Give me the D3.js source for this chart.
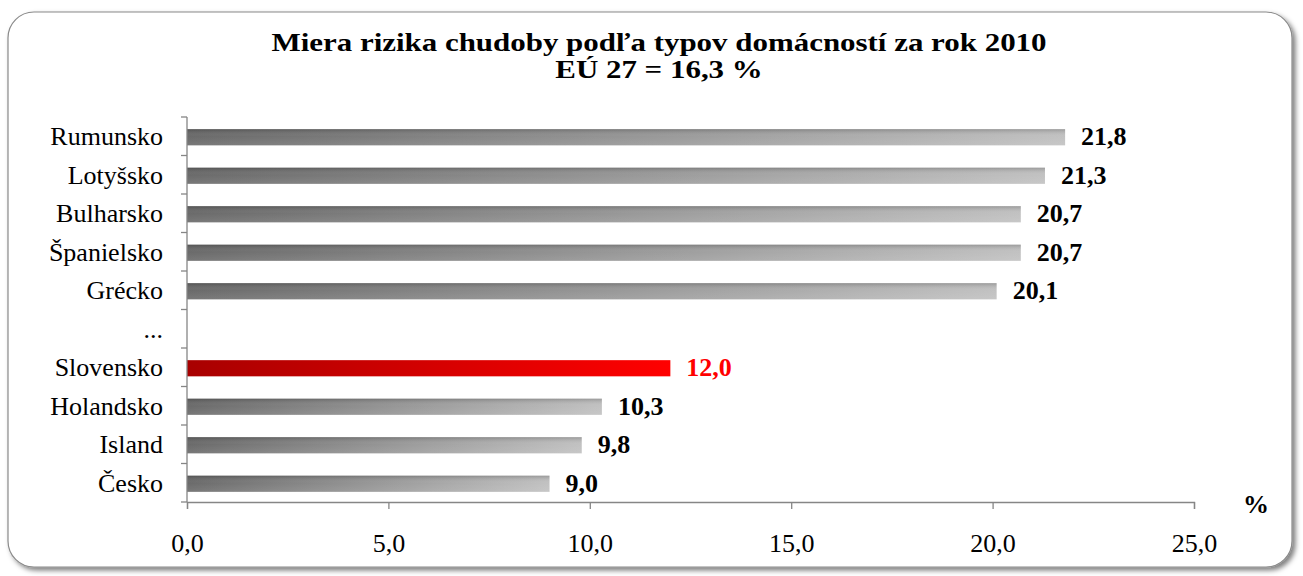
<!DOCTYPE html>
<html>
<head>
<meta charset="utf-8">
<script src="https://cdn.jsdelivr.net/npm/d3@7"></script>
<style>
body{margin:0;background:#fff;}
svg text{font-family:"Liberation Serif","Times New Roman",serif;}
</style>
</head>
<body>
<script>
// data
var countries = ["Rumunsko","Lotyšsko","Bulharsko","Španielsko","Grécko","...","Slovensko","Holandsko","Island","Česko"];
var values = [21.8, 21.3, 20.7, 20.7, 20.1, null, 12.0, 10.3, 9.8, 9.0];
var highlight = "Slovensko";
var xTicks = [0, 5, 10, 15, 20, 25];
var titleLines = ["Miera rizika chudoby podľa typov domácností za rok 2010", "EÚ 27 = 16,3 %"];

var W = 1303, H = 576;
var margin = {top: 117, left: 187, right: 109, bottom: 74};
var serif = "Liberation Serif, Times New Roman, serif";

var svg = d3.select("body").append("svg")
  .attr("width", W).attr("height", H);

var defs = svg.append("defs");
var shadow = defs.append("filter").attr("id", "shadow")
  .attr("x", "-5%").attr("y", "-5%").attr("width", "110%").attr("height", "115%");
shadow.append("feDropShadow").attr("dx", 3).attr("dy", 3).attr("stdDeviation", 2.5)
  .attr("flood-color", "#000").attr("flood-opacity", 0.5);

function grad(id, c0, c1) {
  var g = defs.append("linearGradient").attr("id", id)
    .attr("x1", "0%").attr("x2", "100%").attr("y1", "0%").attr("y2", "0%");
  g.append("stop").attr("offset", "0%").attr("stop-color", c0);
  g.append("stop").attr("offset", "100%").attr("stop-color", c1);
}
grad("grayGrad", "#666666", "#c0c0c0");
grad("redGrad", "#a80000", "#ff0000");
// vertical shading so the gray bars look a bit rounded
var vg = defs.append("linearGradient").attr("id", "shade")
  .attr("x1", "0%").attr("x2", "0%").attr("y1", "0%").attr("y2", "100%");
vg.append("stop").attr("offset", "0%").attr("stop-color", "#000").attr("stop-opacity", 0.2);
vg.append("stop").attr("offset", "45%").attr("stop-color", "#fff").attr("stop-opacity", 0.03);
vg.append("stop").attr("offset", "100%").attr("stop-color", "#fff").attr("stop-opacity", 0.12);

// outer frame
svg.append("rect")
  .attr("x", 8).attr("y", 12).attr("width", 1284).attr("height", 555)
  .attr("rx", 26).attr("ry", 26)
  .attr("fill", "#fff").attr("stroke", "#8a8a8a").attr("stroke-width", 1.2)
  .attr("filter", "url(#shadow)");

// title (the source image is stretched sideways, hence the scale)
svg.append("g").selectAll("text")
  .data(titleLines).enter().append("text")
  .attr("transform", function(d, i) { return "translate(659," + (51 + i * 27) + ") scale(1.19,1)"; })
  .attr("text-anchor", "middle")
  .attr("font-size", "26px").attr("font-weight", "bold")
  .style("font-family", serif)
  .text(function(d) { return d; });

var x = d3.scaleLinear().domain([0, 25]).range([margin.left, W - margin.right]);
var y = d3.scaleBand().domain(countries).range([margin.top, H - margin.bottom]);
var barH = y.bandwidth() * 0.42;

// bars
var bars = svg.append("g").selectAll("g")
  .data(countries.map(function(c, i) { return {name: c, value: values[i]}; })
    .filter(function(d) { return d.value != null; }))
  .enter().append("g");

bars.append("rect")
  .attr("x", x(0))
  .attr("y", function(d) { return y(d.name) + (y.bandwidth() - barH) / 2 + 1; })
  .attr("width", function(d) { return x(d.value) - x(0); })
  .attr("height", barH)
  .attr("fill", function(d) { return d.name == highlight ? "url(#redGrad)" : "url(#grayGrad)"; });

bars.filter(function(d) { return d.name != highlight; }).append("rect")
  .attr("x", x(0))
  .attr("y", function(d) { return y(d.name) + (y.bandwidth() - barH) / 2 + 1; })
  .attr("width", function(d) { return x(d.value) - x(0); })
  .attr("height", barH)
  .attr("fill", "url(#shade)");

bars.append("text")
  .attr("x", function(d) { return x(d.value) + 16; })
  .attr("y", function(d) { return y(d.name) + y.bandwidth() / 2 + 9; })
  .attr("font-size", "26px").attr("font-weight", "bold")
  .style("font-family", serif)
  .attr("fill", function(d) { return d.name == highlight ? "#ff0000" : "#000"; })
  .text(function(d) { return d3.format(".1f")(d.value).replace(".", ","); });

// y axis: line plus ticks at band boundaries
var axisColor = "#868686";
var yAx = svg.append("g");
yAx.append("line")
  .attr("x1", x(0)).attr("x2", x(0))
  .attr("y1", margin.top).attr("y2", H - margin.bottom)
  .attr("stroke", axisColor).attr("stroke-width", 1.3);
yAx.selectAll(".tk")
  .data(countries.map(function(c) { return y(c); }).concat([H - margin.bottom]))
  .enter().append("line")
  .attr("x1", x(0) - 6).attr("x2", x(0))
  .attr("y1", function(d) { return d; }).attr("y2", function(d) { return d; })
  .attr("stroke", axisColor).attr("stroke-width", 1.3);
yAx.selectAll("text")
  .data(countries).enter().append("text")
  .attr("x", 163)
  .attr("y", function(d) { return y(d) + y.bandwidth() / 2 + 9; })
  .attr("text-anchor", "end")
  .attr("font-size", "26px")
  .style("font-family", serif)
  .text(function(d) { return d; });

// x axis
var xAx = svg.append("g")
  .attr("transform", "translate(0," + (H - margin.bottom) + ")")
  .call(d3.axisBottom(x).tickValues(xTicks).tickSizeOuter(0).tickSize(7)
    .tickFormat(function(d) { return d3.format(".1f")(d).replace(".", ","); }));
xAx.select(".domain").attr("stroke", axisColor).attr("stroke-width", 1.3);
xAx.selectAll(".tick line").attr("stroke", axisColor).attr("stroke-width", 1.3);
xAx.selectAll(".tick text")
  .attr("y", 50).attr("dy", 0)
  .attr("font-size", "26px").attr("fill", "#000")
  .style("font-family", serif);

svg.append("text")
  .attr("x", 1256).attr("y", 513)
  .attr("text-anchor", "middle")
  .attr("font-size", "26px").attr("font-weight", "bold")
  .style("font-family", serif)
  .text("%");
</script>
</body>
</html>
